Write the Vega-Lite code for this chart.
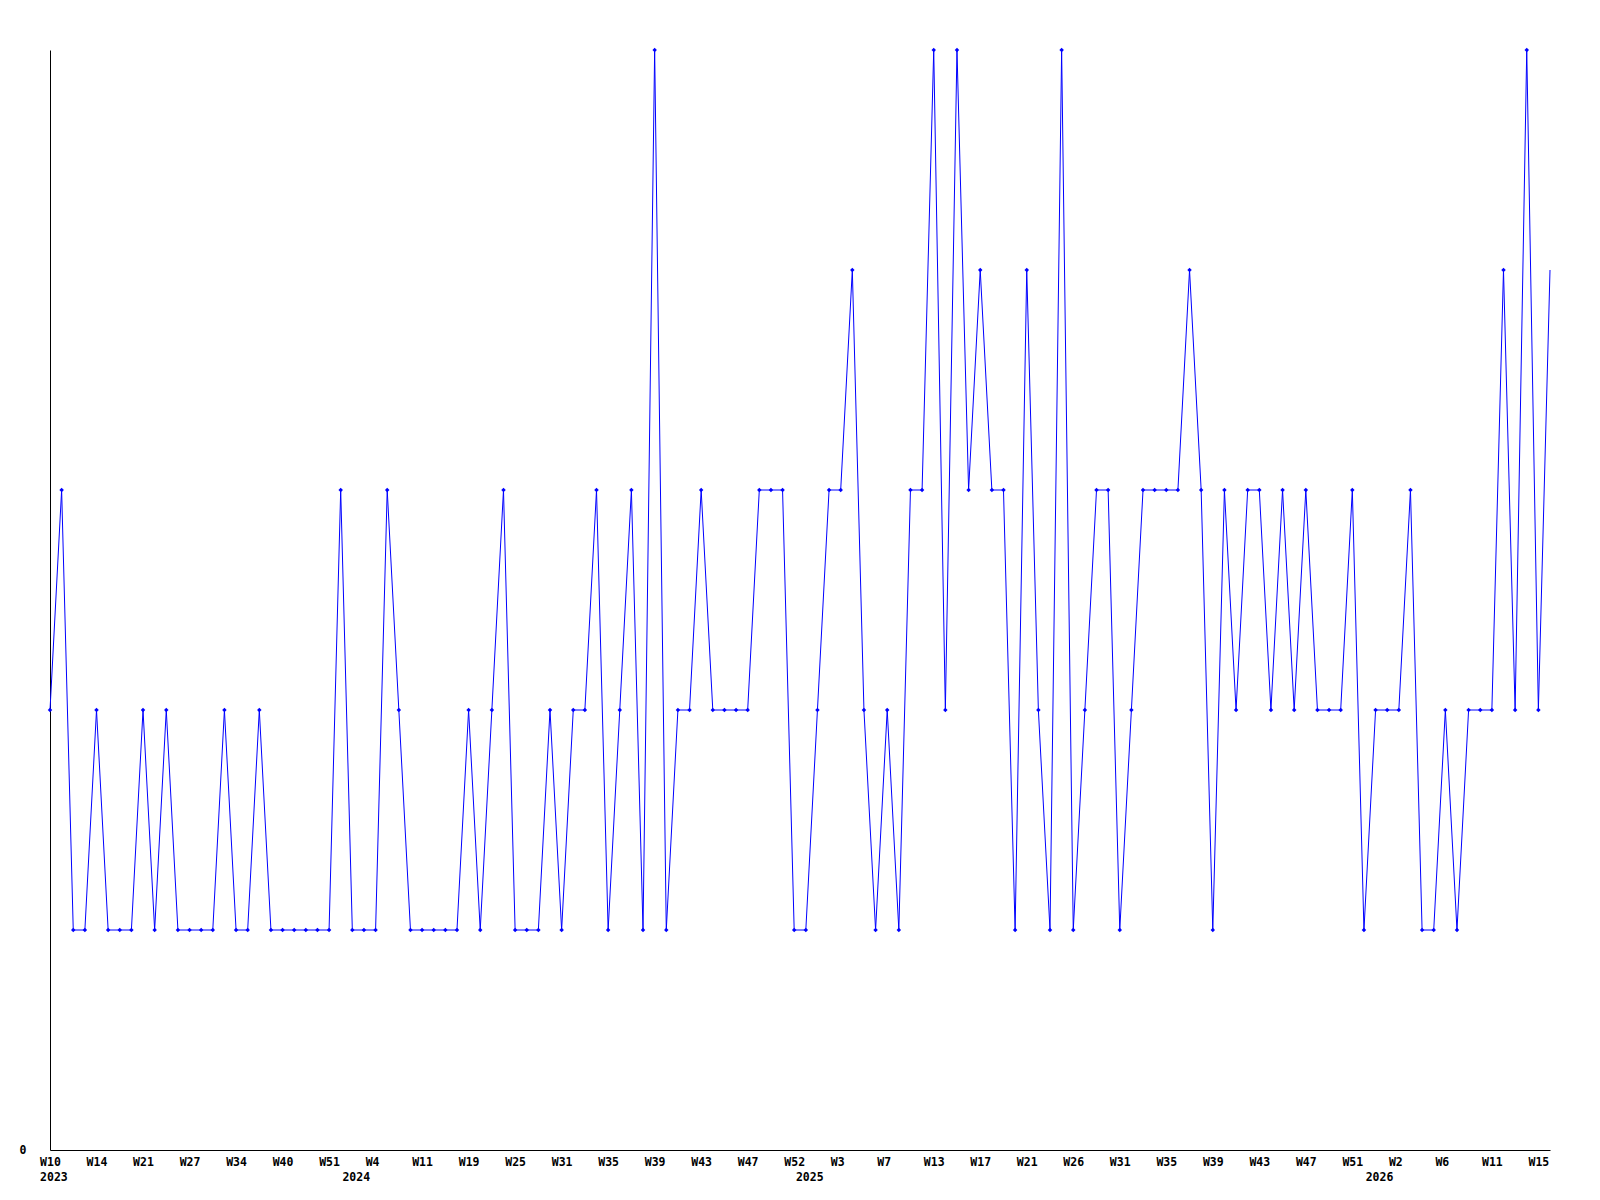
{
  "$schema": "https://vega.github.io/schema/vega-lite/v6.json",
  "width": 1500,
  "height": 1100,
  "autosize": {"type": "none"},
  "padding": {"left": 50, "top": 50, "right": 50, "bottom": 50},
  "background": "white",
  "config": {"view": {"stroke": null}, "axis": {"grid": false}},
  "data": {"values": [
    {"i":0,"v":2},{"i":1,"v":3},{"i":2,"v":1},{"i":3,"v":1},{"i":4,"v":2},{"i":5,"v":1},{"i":6,"v":1},{"i":7,"v":1},{"i":8,"v":2},{"i":9,"v":1},
    {"i":10,"v":2},{"i":11,"v":1},{"i":12,"v":1},{"i":13,"v":1},{"i":14,"v":1},{"i":15,"v":2},{"i":16,"v":1},{"i":17,"v":1},{"i":18,"v":2},{"i":19,"v":1},
    {"i":20,"v":1},{"i":21,"v":1},{"i":22,"v":1},{"i":23,"v":1},{"i":24,"v":1},{"i":25,"v":3},{"i":26,"v":1},{"i":27,"v":1},{"i":28,"v":1},{"i":29,"v":3},
    {"i":30,"v":2},{"i":31,"v":1},{"i":32,"v":1},{"i":33,"v":1},{"i":34,"v":1},{"i":35,"v":1},{"i":36,"v":2},{"i":37,"v":1},{"i":38,"v":2},{"i":39,"v":3},
    {"i":40,"v":1},{"i":41,"v":1},{"i":42,"v":1},{"i":43,"v":2},{"i":44,"v":1},{"i":45,"v":2},{"i":46,"v":2},{"i":47,"v":3},{"i":48,"v":1},{"i":49,"v":2},
    {"i":50,"v":3},{"i":51,"v":1},{"i":52,"v":5},{"i":53,"v":1},{"i":54,"v":2},{"i":55,"v":2},{"i":56,"v":3},{"i":57,"v":2},{"i":58,"v":2},{"i":59,"v":2},
    {"i":60,"v":2},{"i":61,"v":3},{"i":62,"v":3},{"i":63,"v":3},{"i":64,"v":1},{"i":65,"v":1},{"i":66,"v":2},{"i":67,"v":3},{"i":68,"v":3},{"i":69,"v":4},
    {"i":70,"v":2},{"i":71,"v":1},{"i":72,"v":2},{"i":73,"v":1},{"i":74,"v":3},{"i":75,"v":3},{"i":76,"v":5},{"i":77,"v":2},{"i":78,"v":5},{"i":79,"v":3},
    {"i":80,"v":4},{"i":81,"v":3},{"i":82,"v":3},{"i":83,"v":1},{"i":84,"v":4},{"i":85,"v":2},{"i":86,"v":1},{"i":87,"v":5},{"i":88,"v":1},{"i":89,"v":2},
    {"i":90,"v":3},{"i":91,"v":3},{"i":92,"v":1},{"i":93,"v":2},{"i":94,"v":3},{"i":95,"v":3},{"i":96,"v":3},{"i":97,"v":3},{"i":98,"v":4},{"i":99,"v":3},
    {"i":100,"v":1},{"i":101,"v":3},{"i":102,"v":2},{"i":103,"v":3},{"i":104,"v":3},{"i":105,"v":2},{"i":106,"v":3},{"i":107,"v":2},{"i":108,"v":3},{"i":109,"v":2},
    {"i":110,"v":2},{"i":111,"v":2},{"i":112,"v":3},{"i":113,"v":1},{"i":114,"v":2},{"i":115,"v":2},{"i":116,"v":2},{"i":117,"v":3},{"i":118,"v":1},{"i":119,"v":1},
    {"i":120,"v":2},{"i":121,"v":1},{"i":122,"v":2},{"i":123,"v":2},{"i":124,"v":2},{"i":125,"v":4},{"i":126,"v":2},{"i":127,"v":5},{"i":128,"v":2},{"i":129,"v":4}
  ]},
  "encoding": {
    "x": {
      "field": "i", "type": "quantitative",
      "scale": {"domain": [0, 129], "nice": false, "zero": false},
      "axis": {
        "title": null,
        "ticks": false,
        "domainColor": "black",
        "domainWidth": 1,
        "values": [0, 4, 8, 12, 16, 20, 24, 26, 28, 32, 36, 40, 44, 48, 52, 56, 60, 64, 65, 68, 72, 76, 80, 84, 88, 92, 96, 100, 104, 108, 112, 114, 116, 120, 124, 128],
        "labelExpr": "[['W10','2023'],['W14'],['W21'],['W27'],['W34'],['W40'],['W51'],['','2024'],['W4'],['W11'],['W19'],['W25'],['W31'],['W35'],['W39'],['W43'],['W47'],['W52'],['','2025'],['W3'],['W7'],['W13'],['W17'],['W21'],['W26'],['W31'],['W35'],['W39'],['W43'],['W47'],['W51'],['','2026'],['W2'],['W6'],['W11'],['W15']][indexof([0, 4, 8, 12, 16, 20, 24, 26, 28, 32, 36, 40, 44, 48, 52, 56, 60, 64, 65, 68, 72, 76, 80, 84, 88, 92, 96, 100, 104, 108, 112, 114, 116, 120, 124, 128], datum.value)]",
        "labelAlign": "left",
        "labelBaseline": "top",
        "labelOffset": -10.4,
        "labelPadding": 6,
        "labelLineHeight": 15,
        "labelOverlap": false,
        "labelFlush": false,
        "labelBound": false,
        "labelFont": "DejaVu Sans Mono",
        "labelFontWeight": "bold",
        "labelFontSize": 11.5,
        "labelColor": "black"
      }
    },
    "y": {
      "field": "v", "type": "quantitative",
      "scale": {"domain": [0, 5], "nice": false, "zero": true},
      "axis": {
        "title": null,
        "ticks": false,
        "values": [0],
        "domainColor": "black",
        "domainWidth": 1,
        "labelPadding": 24,
        "labelFont": "DejaVu Sans Mono",
        "labelFontWeight": "bold",
        "labelFontSize": 11.5,
        "labelColor": "black"
      }
    }
  },
  "layer": [
    {"mark": {"type": "line", "color": "#0000FF", "strokeWidth": 1}},
    {
      "transform": [{"filter": "datum.i < 129"}],
      "mark": {"type": "point", "shape": "diamond", "filled": true, "color": "#0000FF", "size": 20, "opacity": 1}
    }
  ]
}
